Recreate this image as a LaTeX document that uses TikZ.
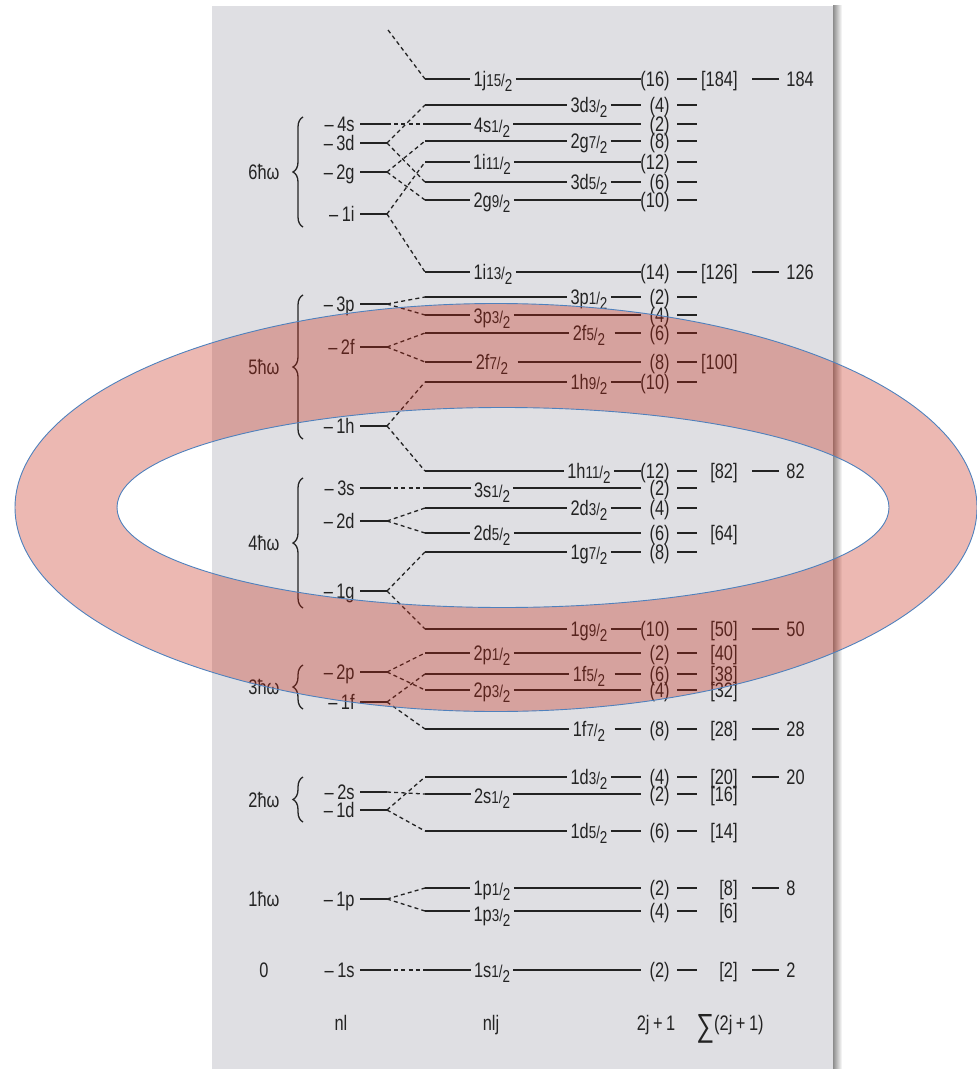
\documentclass[tikz,border=0pt]{standalone}
\usepackage{fontspec}
\setmainfont{Liberation Sans}[FakeStretch=0.78]
\usetikzlibrary{decorations.pathreplacing,calc}
\definecolor{panel}{RGB}{223,223,227}
\definecolor{ink}{RGB}{35,35,35}
\definecolor{ringred}{RGB}{198,40,20}
\definecolor{ringline}{RGB}{79,129,189}
\newcommand\jf[2]{{\fontsize{8.6}{8.6}\selectfont#1/\raisebox{-2.6pt}{#2}}}
\tikzset{
  lvl/.style={draw=ink, line width=0.65pt},
  conn/.style={draw=ink, line width=0.65pt, dash pattern=on 2pt off 1.6pt},
  lab/.style={anchor=base, inner xsep=1.5pt, inner ysep=0pt, text=ink},
  deg/.style={anchor=base east, inner sep=0pt, text=ink},
  sumst/.style={anchor=base east, inner sep=0pt, text=ink},
  magst/.style={anchor=base west, inner sep=0pt, text=ink},
  nlst/.style={anchor=base east, inner xsep=2.5pt, inner ysep=0pt, text=ink},
  hw/.style={anchor=base, inner sep=0pt, text=ink},
  bracest/.style={draw=ink, line width=0.65pt, decorate, decoration={brace, amplitude=5pt}},
}
\newcommand\shellrow[7]{%
  \coordinate (#1s) at (425,#2);
  \coordinate (#1e) at (641,#2);
  \node[lab] (#1l) at (#3,#2+7.5+#4) {#5};
  \draw[lvl] (#1s) -- (#1l.west |- #1s);
  \draw[lvl] ($(#1l.east |- #1s)+(#6,0)$) -- (#1e);
  \node[deg] (#1d) at (670,#2+7.5) {(#7)};
  \coordinate (#1a) at (677,#2);
  \coordinate (#1b) at (697,#2);
  \draw[lvl] (#1a) -- (#1b);
}
\newcommand\sumnum[3]{\node[sumst] (#1S) at (738,#2+7.5) {[#3]};}
\newcommand\magicnum[3]{%
  \coordinate (#1m) at (752,#2);
  \coordinate (#1n) at (779,#2);
  \draw[lvl] (#1m) -- (#1n);
  \node[magst] (#1M) at (786,#2+7.5) {#3};}
\newcommand\nlrow[3]{%
  \node[nlst] (#1) at (360,#2+7.5) {–\,#3};
  \coordinate (#1f) at (387,#2);
  \draw[lvl] (#1.east |- #1f) -- (#1f);}
\begin{document}
\begin{tikzpicture}[x=0.5pt,y=-0.5pt,font=\fontsize{10.5}{11}\selectfont]
\useasboundingbox (0,0) rectangle (977,1069);
% panel with shadow
\shade[left color=black!45, right color=white] (833,6) rectangle (842,1069);
\fill[panel] (212,6) rectangle (833,1069);

% nlj levels
\shellrow{j15}{79}{493}{0}{1j\jf{15}{2}}{0}{16}
\shellrow{d3c}{105}{589}{0}{3d\jf{3}{2}}{0}{4}
\shellrow{s4}{124}{492}{1}{4s\jf{1}{2}}{0}{2}
\shellrow{g7b}{141}{589}{0}{2g\jf{7}{2}}{0}{8}
\shellrow{i11}{162}{492}{0}{1i\jf{11}{2}}{0}{12}
\shellrow{d5c}{182}{589}{0}{3d\jf{5}{2}}{0}{6}
\shellrow{g9b}{200}{492}{0}{2g\jf{9}{2}}{0}{10}
\shellrow{i13}{272}{493}{0}{1i\jf{13}{2}}{0}{14}
\shellrow{p1c}{297}{589}{0}{3p\jf{1}{2}}{0}{2}
\shellrow{p3c}{315}{492}{1}{3p\jf{3}{2}}{0}{4}
\shellrow{f5b}{333}{589}{0}{2f\jf{5}{2}}{6}{6}
\shellrow{f7b}{362}{492}{0}{2f\jf{7}{2}}{6}{8}
\shellrow{h9}{382}{589}{0}{1h\jf{9}{2}}{0}{10}
\shellrow{h11}{471}{589}{0}{1h\jf{11}{2}}{0}{12}
\shellrow{s3}{488}{492}{2}{3s\jf{1}{2}}{0}{2}
\shellrow{d3b}{508}{589}{0}{2d\jf{3}{2}}{0}{4}
\shellrow{d5b}{533}{492}{0}{2d\jf{5}{2}}{0}{6}
\shellrow{g7}{552}{589}{0}{1g\jf{7}{2}}{0}{8}
\shellrow{g9}{629}{589}{0}{1g\jf{9}{2}}{0}{10}
\shellrow{p1b}{653}{492}{0}{2p\jf{1}{2}}{0}{2}
\shellrow{f5}{674}{589}{0}{1f\jf{5}{2}}{6}{6}
\shellrow{p3b}{690}{492}{0}{2p\jf{3}{2}}{0}{4}
\shellrow{f7}{729}{589}{0}{1f\jf{7}{2}}{6}{8}
\shellrow{d3}{777}{589}{0}{1d\jf{3}{2}}{0}{4}
\shellrow{s2}{794}{492}{2}{2s\jf{1}{2}}{0}{2}
\shellrow{d5}{831}{589}{0}{1d\jf{5}{2}}{0}{6}
\shellrow{p1}{888}{492}{0}{1p\jf{1}{2}}{0}{2}
\shellrow{p3}{911}{492}{3}{1p\jf{3}{2}}{0}{4}
\shellrow{s1}{970}{492}{0}{1s\jf{1}{2}}{0}{2}

% cumulative sums
\sumnum{j15}{79}{184}
\sumnum{i13}{272}{126}
\sumnum{f7b}{362}{100}
\sumnum{h11}{471}{82}
\sumnum{d5b}{533}{64}
\sumnum{g9}{629}{50}
\sumnum{p1b}{653}{40}
\sumnum{f5}{674}{38}
\sumnum{p3b}{690}{32}
\sumnum{f7}{729}{28}
\sumnum{d3}{777}{20}
\sumnum{s2}{794}{16}
\sumnum{d5}{831}{14}
\sumnum{p1}{888}{8}
\sumnum{p3}{911}{6}
\sumnum{s1}{970}{2}

% magic numbers
\magicnum{j15}{79}{184}
\magicnum{i13}{272}{126}
\magicnum{h11}{471}{82}
\magicnum{g9}{629}{50}
\magicnum{f7}{729}{28}
\magicnum{d3}{777}{20}
\magicnum{p1}{888}{8}
\magicnum{s1}{970}{2}

% nl levels
\nlrow{nl4s}{124}{4s}
\nlrow{nl3d}{143}{3d}
\nlrow{nl2g}{172}{2g}
\nlrow{nl1i}{214}{1i}
\nlrow{nl3p}{304}{3p}
\nlrow{nl2f}{347}{2f}
\nlrow{nl1h}{426}{1h}
\nlrow{nl3s}{488}{3s}
\nlrow{nl2d}{521}{2d}
\nlrow{nl1g}{591}{1g}
\nlrow{nl2p}{672}{2p}
\nlrow{nl1f}{702}{1f}
\nlrow{nl2s}{792}{2s}
\nlrow{nl1d}{810}{1d}
\nlrow{nl1p}{899}{1p}
\nlrow{nl1s}{970}{1s}

% splitting connectors
\coordinate (top1j) at (388,30);
\draw[conn] (top1j) -- (j15s);
\draw[conn] (nl4sf) -- (s4s);
\draw[conn] (nl3df) -- (d3cs);
\draw[conn] (nl3df) -- (d5cs);
\draw[conn] (nl2gf) -- (g7bs);
\draw[conn] (nl2gf) -- (g9bs);
\draw[conn] (nl1if) -- (i11s);
\draw[conn] (nl1if) -- (i13s);
\draw[conn] (nl3pf) -- (p1cs);
\draw[conn] (nl3pf) -- (p3cs);
\draw[conn] (nl2ff) -- (f5bs);
\draw[conn] (nl2ff) -- (f7bs);
\draw[conn] (nl1hf) -- (h9s);
\draw[conn] (nl1hf) -- (h11s);
\draw[conn] (nl3sf) -- (s3s);
\draw[conn] (nl2df) -- (d3bs);
\draw[conn] (nl2df) -- (d5bs);
\draw[conn] (nl1gf) -- (g7s);
\draw[conn] (nl1gf) -- (g9s);
\draw[conn] (nl2pf) -- (p1bs);
\draw[conn] (nl2pf) -- (p3bs);
\draw[conn] (nl1ff) -- (f5s);
\draw[conn] (nl1ff) -- (f7s);
\draw[conn] (nl2sf) -- (s2s);
\draw[conn] (nl1df) -- (d3s);
\draw[conn] (nl1df) -- (d5s);
\draw[conn] (nl1pf) -- (p1s);
\draw[conn] (nl1pf) -- (p3s);
\draw[conn] (nl1sf) -- (s1s);

% oscillator shells and braces
\node[hw] (hw6) at (264,179.5) {6ħω};
\node[hw] (hw5) at (264,374.5) {5ħω};
\node[hw] (hw4) at (264,550.5) {4ħω};
\node[hw] (hw3) at (264,694.5) {3ħω};
\node[hw] (hw2) at (264,807.5) {2ħω};
\node[hw] (hw1) at (264,906.5) {1ħω};
\node[hw] (hw0) at (264,977.5) {0};
\coordinate (b6a) at (303,227); \coordinate (b6b) at (303,117);
\coordinate (b5a) at (303,439); \coordinate (b5b) at (303,295);
\coordinate (b4a) at (303,608); \coordinate (b4b) at (303,478);
\coordinate (b3a) at (303,709); \coordinate (b3b) at (303,665);
\coordinate (b2a) at (303,822); \coordinate (b2b) at (303,777);
\draw[bracest] (b6a) -- (b6b);
\draw[bracest] (b5a) -- (b5b);
\draw[bracest] (b4a) -- (b4b);
\draw[bracest] (b3a) -- (b3b);
\draw[bracest] (b2a) -- (b2b);

% column headings
\node[hw] (hnl) at (341,1030) {nl};
\node[hw] (hnlj) at (491,1030) {nlj};
\node[hw] (hdeg) at (656,1030) {2j\,+\,1};
\node[hw] (hsum) at (730,1030) {{\fontsize{16}{16}\selectfont\raisebox{-3pt}{∑}}(2j\,+\,1)};

% highlight ring
\fill[ringred, fill opacity=0.33, even odd rule]
  (496,507.5) ellipse [x radius=240.5pt, y radius=102pt]
  (503,507.5) ellipse [x radius=193pt, y radius=50pt];
\draw[ringline, line width=0.45pt] (496,507.5) ellipse [x radius=240.5pt, y radius=102pt];
\draw[ringline, line width=0.45pt] (503,507.5) ellipse [x radius=193pt, y radius=50pt];
\end{tikzpicture}
\end{document}
